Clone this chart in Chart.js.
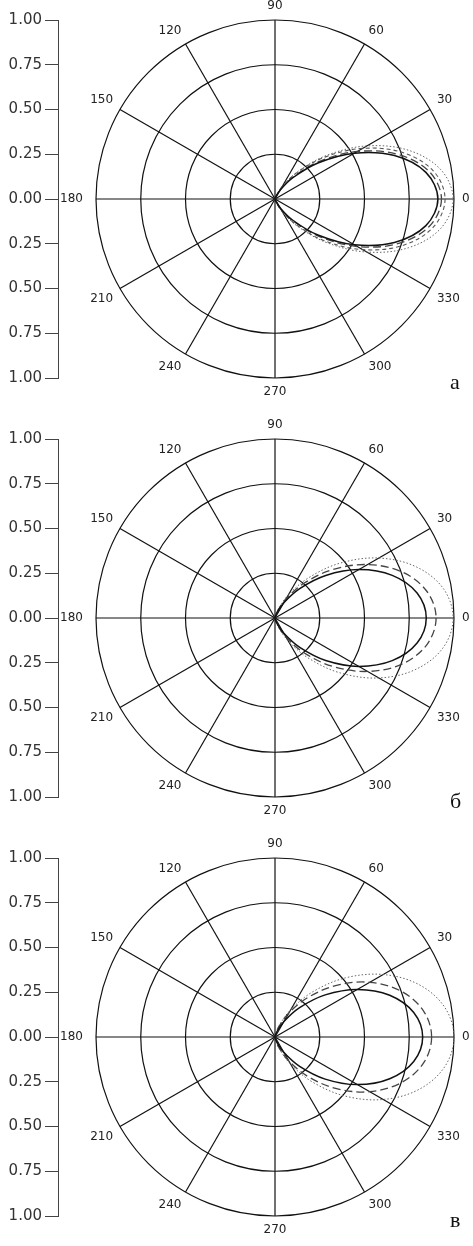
<!DOCTYPE html>
<html>
<head>
<meta charset="utf-8">
<script src="https://cdn.jsdelivr.net/npm/chart.js@4.4.0/dist/chart.umd.min.js"></script>
<style>
  html, body { margin: 0; padding: 0; background: #fff; overflow: hidden; }
  .panel { position: relative; width: 473px; height: 419px; overflow: hidden; }
  .panel canvas { position: absolute; left: 0; top: 0; }
  .tag { position: absolute; left: 450px; top: 371px; font: 22px "Liberation Serif", serif; color: #111; line-height: 1; }
</style>
</head>
<body>
<div class="panel"><canvas id="polarA" width="550" height="398"></canvas><canvas id="axisA" width="70" height="419"></canvas><div class="tag">а</div></div>
<div class="panel"><canvas id="polarB" width="550" height="398"></canvas><canvas id="axisB" width="70" height="419"></canvas><div class="tag">б</div></div>
<div class="panel"><canvas id="polarC" width="550" height="398"></canvas><canvas id="axisC" width="70" height="419"></canvas><div class="tag">в</div></div>
<script>
// angle (degrees) of every value below
const angles = [0, 10, 20, 30, 40, 50, 60, 70, 80, 90, 100, 110, 120, 130, 140, 150, 160, 170,
  180, 190, 200, 210, 220, 230, 240, 250, 260, 270, 280, 290, 300, 310, 320, 330, 340, 350];

// panel а
const solidA = [0.91, 0.856, 0.71, 0.512, 0.313, 0.155, 0.057, 0.012, 0.001, 0, 0, 0, 0, 0, 0, 0, 0, 0,
  0, 0, 0, 0, 0, 0, 0, 0, 0, 0, 0.001, 0.012, 0.057, 0.155, 0.313, 0.512, 0.71, 0.856];
const dashedA = [0.93, 0.876, 0.73, 0.531, 0.329, 0.166, 0.062, 0.014, 0, 0, 0, 0, 0, 0, 0, 0, 0, 0,
  0, 0, 0, 0, 0, 0, 0, 0, 0, 0, 0, 0.014, 0.062, 0.166, 0.329, 0.531, 0.73, 0.876];
const dashDotA = [0.95, 0.899, 0.759, 0.566, 0.364, 0.194, 0.078, 0.02, 0.002, 0, 0, 0, 0, 0, 0, 0, 0, 0,
  0, 0, 0, 0, 0, 0, 0, 0, 0, 0, 0.002, 0.02, 0.078, 0.194, 0.364, 0.566, 0.759, 0.899];
const dottedA = [0.995, 0.941, 0.795, 0.593, 0.381, 0.203, 0.082, 0.021, 0.002, 0, 0, 0, 0, 0, 0, 0, 0, 0,
  0, 0, 0, 0, 0, 0, 0, 0, 0, 0, 0.002, 0.021, 0.082, 0.203, 0.381, 0.593, 0.795, 0.941];

// panel б
const solidB = [0.845, 0.806, 0.697, 0.541, 0.37, 0.215, 0.099, 0.03, 0.004, 0, 0, 0, 0, 0, 0, 0, 0, 0,
  0, 0, 0, 0, 0, 0, 0, 0, 0, 0, 0.004, 0.03, 0.099, 0.215, 0.37, 0.541, 0.697, 0.806];
const dashedB = [0.9, 0.861, 0.754, 0.597, 0.421, 0.255, 0.125, 0.042, 0.006, 0, 0, 0, 0, 0, 0, 0, 0, 0,
  0, 0, 0, 0, 0, 0, 0, 0, 0, 0, 0.006, 0.042, 0.125, 0.255, 0.421, 0.597, 0.754, 0.861];
const dottedB = [0.995, 0.954, 0.838, 0.67, 0.478, 0.295, 0.148, 0.052, 0.008, 0, 0, 0, 0, 0, 0, 0, 0, 0,
  0, 0, 0, 0, 0, 0, 0, 0, 0, 0, 0.008, 0.052, 0.148, 0.295, 0.478, 0.67, 0.838, 0.954];

// panel в
const solidC = [0.825, 0.787, 0.682, 0.532, 0.366, 0.214, 0.1, 0.031, 0.004, 0, 0, 0, 0, 0, 0, 0, 0, 0,
  0, 0, 0, 0, 0, 0, 0, 0, 0, 0, 0.004, 0.031, 0.1, 0.214, 0.366, 0.532, 0.682, 0.787];
const dashedC = [0.875, 0.842, 0.749, 0.611, 0.449, 0.29, 0.155, 0.06, 0.011, 0, 0, 0, 0, 0, 0, 0, 0, 0,
  0, 0, 0, 0, 0, 0, 0, 0, 0, 0, 0.011, 0.06, 0.155, 0.29, 0.449, 0.611, 0.749, 0.842];
const dottedC = [1.0, 0.962, 0.856, 0.698, 0.514, 0.331, 0.177, 0.068, 0.013, 0, 0, 0, 0, 0, 0, 0, 0, 0,
  0, 0, 0, 0, 0, 0, 0, 0, 0, 0, 0.013, 0.068, 0.177, 0.331, 0.514, 0.698, 0.856, 0.962];

// left scale: 1.00 ... 0.00 ... 1.00
const axisTicks = [-1, -0.75, -0.5, -0.25, 0, 0.25, 0.5, 0.75, 1];

// radar goes clockwise, the plot is counterclockwise from 0 on the right
const cw = angles.map((_, i) => (angles.length - i) % angles.length);
const cwLabels = cw.map(i => angles[i]);

const styles = {
  solid: { borderColor: "#111", borderWidth: 1.5, borderDash: [] },
  dashed: { borderColor: "#444", borderWidth: 1.3, borderDash: [8, 4] },
  dashDot: { borderColor: "#555", borderWidth: 1.1, borderDash: [4, 3] },
  dotted: { borderColor: "#666", borderWidth: 1, borderDash: [1.5, 2] },
};

function makePolar(id, series) {
	return new Chart(document.getElementById(id), {
		type: "radar",
		data: {
			labels: cwLabels.map(String),
			datasets: series.map(([vals, st]) => Object.assign({
				data: cw.map(i => vals[i]),
				pointRadius: 0,
				fill: false,
				tension: 0.35,
			}, styles[st])),
		},
		options: {
			responsive: false,
			animation: false,
			plugins: { legend: { display: false }, tooltip: { enabled: false } },
			scales: {
				r: {
					min: 0,
					max: 1,
					startAngle: 90,
					ticks: { display: false, stepSize: 0.25 },
					grid: { circular: true, color: "#111", lineWidth: 1.2 },
					angleLines: {
						color: "#111",
						lineWidth: (c) => (cwLabels[c.index] % 30 === 0 ? 1.2 : 0),
					},
					pointLabels: {
						callback: (l) => (Number(l) % 30 === 0 ? l : ""),
						font: { family: "DejaVu Sans", size: 12, lineHeight: 1 },
						color: "#222",
						padding: (c) => (c.label === "180" ? 13 : 8),
					},
				},
			},
		},
	});
}

function makeAxis(id, polar) {
	const canvas = document.getElementById(id);
	const r = polar.scales.r;
	const top = r.yCenter - r.drawingArea;
	const bottom = r.yCenter + r.drawingArea;
	return new Chart(canvas, {
		type: "scatter",
		data: { datasets: [{ data: [] }] },
		options: {
			responsive: false,
			animation: false,
			layout: { padding: { top: top, bottom: canvas.height - bottom, left: 0, right: 0 } },
			plugins: { legend: { display: false }, tooltip: { enabled: false } },
			scales: {
				x: { display: false },
				y: {
					min: -1,
					max: 1,
					afterFit: (s) => { s.width = 58; },
					afterBuildTicks: (s) => { s.ticks = axisTicks.map(v => ({ value: v })); },
					ticks: {
						callback: (v) => Math.abs(v).toFixed(2),
						font: { family: "DejaVu Sans", size: 15 },
						color: "#333",
						padding: 3,
						autoSkip: false,
					},
					grid: { drawOnChartArea: false, tickLength: 13, color: "#444" },
					border: { color: "#444" },
				},
			},
		},
	});
}

const polarA = makePolar("polarA", [[solidA, "solid"], [dashedA, "dashed"], [dashDotA, "dashDot"], [dottedA, "dotted"]]);
const polarB = makePolar("polarB", [[solidB, "solid"], [dashedB, "dashed"], [dottedB, "dotted"]]);
const polarC = makePolar("polarC", [[solidC, "solid"], [dashedC, "dashed"], [dottedC, "dotted"]]);
makeAxis("axisA", polarA);
makeAxis("axisB", polarB);
makeAxis("axisC", polarC);
</script>
</body>
</html>
